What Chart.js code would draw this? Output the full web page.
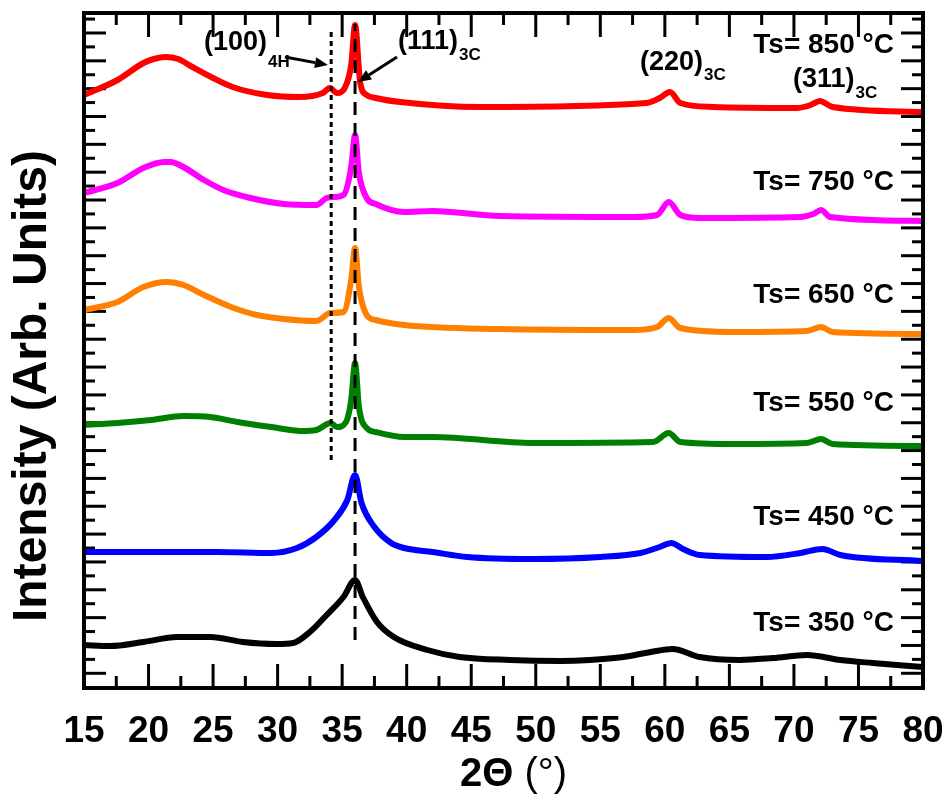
<!DOCTYPE html>
<html><head><meta charset="utf-8">
<script src="https://cdn.jsdelivr.net/npm/chart.js@4/dist/chart.umd.min.js"></script>
<style>html,body{margin:0;padding:0;background:#fff}#wrap{width:951px;height:798px}</style>
</head><body><div id="wrap"><canvas id="c" width="951" height="798"></canvas></div>
<script>
// ---- data (2θ in degrees, intensity in arbitrary units, curves offset vertically) ----
const x850 = [15,17.6,19.6,20.4,21.3,22.3,23.4,25,26.5,29.2,31.7,33.5,34.05,34.6,35.2,35.7,36,36.4,36.9,37.6,39.5,45.7,58.6,59.6,60.4,61.2,63.7,70.2,71.3,72,73,80];
const y850 = [593,608,625,629,631,629,621,610,601,593,591,595,600,595,600,623,663,605,593,590,586,581,585,590,596,585,581,580,583,587,581,576];
const x750 = [15,17.6,19.6,21.2,21.7,22.7,24.3,25.8,27.9,30.5,33,33.8,34.4,35.1,35.7,36,36.3,36.9,37.6,39.8,42,47.2,57.5,59.4,60.3,61.2,62.7,70.5,71.5,72.1,72.8,80];
const y750 = [495,505,520,526,526,521,508,498,490,484,483,490,491,493,521,553,515,490,484,476,477,472,471,473,486,473,470,471,474,478,471,467];
const x650 = [15,17.6,19.6,21.4,22.7,24.3,26.4,28.4,30.5,33,34.1,35.1,35.7,36,36.3,36.9,37.6,39.8,47.2,57.5,59.4,60.3,61.2,65.3,71,72.1,73,80];
const y650 = [378,386,401,406,403,393,381,373,369,367,375,376,408,440,401,373,368,363,359,358,361,370,360,356,357,361,356,354];
const x550 = [15,17.6,20.2,22.7,24.8,26.9,29.5,31.8,33,34.1,34.6,35.3,35.7,36,36.3,36.9,37.6,39.8,42,49.8,59.1,60.3,61.2,65.3,71,72.1,73,80];
const y550 = [263,265,268,272,271,266,261,257,258,265,261,266,288,325,281,260,256,251,251,245,246,255,246,244,245,249,244,242];
const x450 = [15,20.2,25.3,29.5,31.5,33,34.4,35.4,36,36.5,37.5,38.8,39.8,42,44.7,49.8,55,58.1,59.6,60.5,61.4,62.7,67.9,70.5,72.2,73.6,80];
const y450 = [136,136,136,135,140,151,168,188,213,185,161,145,140,136,131,129,131,135,141,145,139,133,131,135,139,133,127];
const x350 = [15,17,19.6,22.2,24.8,27.3,29.9,31.2,32.5,33.8,35.1,36,36.6,37.7,39,41.6,44.1,48,51.9,54.2,56.8,58.9,60.6,62.7,65.8,68.4,71,73.6,76.1,80];
const y350 = [43,42,46,51,51,46,44,45,56,73,91,108,91,66,51,38,31,28,27,28,31,36,39,31,28,30,33,28,25,21];

const seriesLabels = ['Ts= 850 °C','Ts= 750 °C','Ts= 650 °C','Ts= 550 °C','Ts= 450 °C','Ts= 350 °C'];
const seriesColors = ['#ff0000','#ff00ff','#ff8000','#008000','#0000ff','#000000'];

// reference peak positions (2θ) and vertical extents
const line4H = [34.15, 34.15];  const line4HY = [228, 656];
const line3C = [36.0, 36.0];    const line3CY = [48, 664];

const xMin = 15, xMax = 80;
const xTickStep = 2.5;

const zip = (xs, ys) => xs.map((v, i) => ({x: v, y: ys[i]}));
const allX = [x850,x750,x650,x550,x450,x350];
const allY = [y850,y750,y650,y550,y450,y350];

const FONT = "'Liberation Sans', Arial, Helvetica, sans-serif";

const curveSets = allX.map((xs, i) => ({
  label: seriesLabels[i],
  data: zip(xs, allY[i]),
  borderColor: seriesColors[i],
  backgroundColor: seriesColors[i],
  borderWidth: 6,
  pointRadius: 0,
  cubicInterpolationMode: 'monotone',
  fill: false,
  order: 2
}));

const refSets = [
  {label:'4H', data: zip(line4H, line4HY), borderColor:'#000', borderWidth:3, borderDash:[5,4], pointRadius:0, order:0, fill:false},
  {label:'3C', data: zip(line3C, line3CY), borderColor:'#000', borderWidth:3, borderDash:[13,8], pointRadius:0, order:0, fill:false}
];

function isMajorX(v){ return Math.abs(v/5 - Math.round(v/5)) < 1e-6; }

const deco = {
  id: 'deco',
  beforeDatasetsDraw(chart){
    const {ctx, chartArea:a, scales:{x, y}} = chart;
    ctx.save();
    ctx.strokeStyle = '#000'; ctx.lineWidth = 3; ctx.lineCap = 'butt';
    const seg = (x1,y1,x2,y2)=>{ctx.beginPath();ctx.moveTo(x1,y1);ctx.lineTo(x2,y2);ctx.stroke();};
    x.ticks.forEach(t => {
      const px = x.getPixelForValue(t.value);
      if (px <= a.left + 2 || px >= a.right - 2) return;
      const L = isMajorX(t.value) ? 24 : 12;
      seg(px, a.bottom, px, a.bottom - L);
      seg(px, a.top, px, a.top + L);
    });
    y.ticks.forEach(t => {
      const py = y.getPixelForValue(t.value);
      const L = t.major ? 22 : 11;
      seg(a.left, py, a.left + L, py);
      seg(a.right, py, a.right - L, py);
    });
    ctx.restore();
  },
  afterDraw(chart){
    const {ctx, chartArea:a, scales:{x, y}} = chart;
    const P = (xv, yv) => [x.getPixelForValue(xv), y.getPixelForValue(yv)];
    ctx.save();
    // frame
    ctx.strokeStyle = '#000'; ctx.lineWidth = 4;
    ctx.strokeRect(a.left, a.top, a.right - a.left, a.bottom - a.top);
    ctx.fillStyle = '#000';
    // temperature labels
    ctx.font = `bold 28px ${FONT}`;
    ctx.textAlign = 'right'; ctx.textBaseline = 'middle';
    const tsY = [643, 506, 393, 285, 171, 65];
    seriesLabels.forEach((s, i) => { const [px, py] = P(77.75, tsY[i]); ctx.fillText(s, px, py); });
    // Miller indices
    const idx = [
      {main:'(100)', sub:'4H', x:24.3, y:645, sy:626},
      {main:'(111)', sub:'3C', x:39.33, y:646, sy:633},
      {main:'(220)', sub:'3C', x:58.07, y:625, sy:613},
      {main:'(311)', sub:'3C', x:69.93, y:608, sy:595}
    ];
    ctx.textAlign = 'left';
    idx.forEach(o => {
      const [px, py] = P(o.x, o.y);
      ctx.font = `bold 27px ${FONT}`;
      ctx.fillText(o.main, px, py);
      const w = ctx.measureText(o.main).width;
      const [, sy] = P(o.x, o.sy);
      ctx.font = `bold 17px ${FONT}`;
      ctx.fillText(o.sub, px + w + 1, sy);
    });
    // arrows
    const arrow = (x1, y1, x2, y2) => {
      const [ax, ay] = P(x1, y1), [bx, by] = P(x2, y2);
      const ang = Math.atan2(by - ay, bx - ax), hl = 13, hw = 5.5;
      const cx = bx - hl*Math.cos(ang), cy = by - hl*Math.sin(ang);
      ctx.lineWidth = 3; ctx.strokeStyle = '#000';
      ctx.beginPath(); ctx.moveTo(ax, ay); ctx.lineTo(cx, cy); ctx.stroke();
      ctx.beginPath(); ctx.moveTo(bx, by);
      ctx.lineTo(cx + hw*Math.sin(ang), cy - hw*Math.cos(ang));
      ctx.lineTo(cx - hw*Math.sin(ang), cy + hw*Math.cos(ang));
      ctx.closePath(); ctx.fill();
    };
    arrow(30.57, 631, 33.9, 623);
    arrow(39.25, 631, 36.23, 606);
    // axis titles
    ctx.textBaseline = 'middle';
    ctx.font = `bold 40px ${FONT}`;
    const t1 = '2Θ';
    const w1 = ctx.measureText(t1).width;
    const cx = 460;
    ctx.textAlign = 'left';
    ctx.fillText(t1, cx, 775);
    ctx.font = `40px ${FONT}`;
    ctx.fillText(' (°)', cx + w1, 775);
    ctx.translate(33, 386); ctx.rotate(-Math.PI/2);
    ctx.font = `bold 48px ${FONT}`; ctx.textAlign = 'center';
    ctx.fillText('Intensity (Arb. Units)', 0, 0);
    ctx.restore();
  }
};

new Chart(document.getElementById('c'), {
  type: 'line',
  data: { datasets: [...refSets, ...curveSets] },
  options: {
    responsive: false, animation: false, devicePixelRatio: 1,
    layout: { padding: { top: 13, right: 28, left: 0, bottom: 0 } },
    plugins: { legend: { display: false }, tooltip: { enabled: false } },
    scales: {
      x: {
        type: 'linear', min: xMin, max: xMax,
        grid: { display: false, drawTicks: false },
        border: { display: false },
        ticks: {
          stepSize: xTickStep, autoSkip: false, maxRotation: 0, padding: 22,
          color: '#000', font: { family: FONT, size: 37, weight: 'bold' },
          callback: v => isMajorX(v) ? String(Math.round(v)) : ''
        },
        afterFit: s => { s.height = 110; s.paddingLeft = 0; s.paddingRight = 0; }
      },
      y: {
        type: 'linear', min: 0, max: 675,
        grid: { display: false, drawTicks: false },
        border: { display: false },
        ticks: { display: false },
        afterBuildTicks: s => {
          const t = [];
          for (let k = 0; k <= 48; k++) { const v = 14.7 + 13.92*k; if (v < 675) t.push({value: v, major: k % 2 === 0}); }
          s.ticks = t;
        },
        afterFit: s => { s.width = 84; s.paddingTop = 0; s.paddingBottom = 0; }
      }
    }
  },
  plugins: [deco]
});
</script></body></html>
